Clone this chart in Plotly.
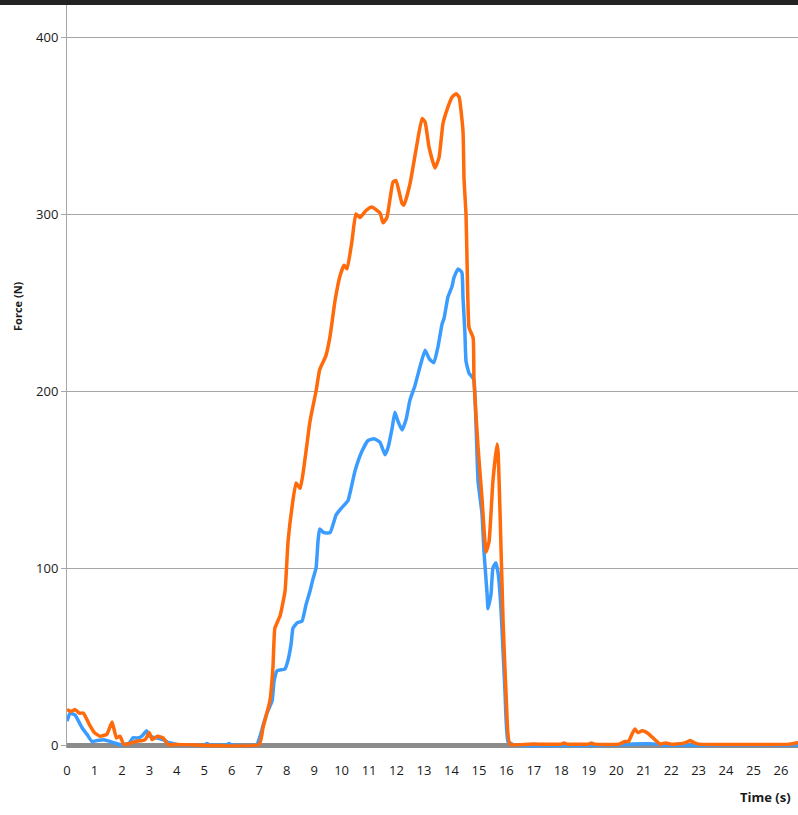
import plotly.graph_objects as go

# Force readings over time for the two channels
time_blue = [0.0, 0.11, 0.29, 0.47, 0.58, 0.73, 0.91, 1.09, 1.35, 1.56, 1.75, 2.0, 2.26, 2.4, 2.58, 2.73, 2.9, 3.0, 3.26, 3.5, 3.67, 3.82, 4.1,
             5.0, 5.1, 5.2, 5.8, 5.9, 6.0, 6.9, 7.14, 7.28, 7.47, 7.54, 7.65, 7.94, 8.05, 8.16, 8.23, 8.38, 8.56,
             8.70, 8.85, 8.96, 9.07, 9.14, 9.2, 9.35, 9.58, 9.8, 10.0, 10.23, 10.49, 10.74, 10.96, 11.18, 11.4,
             11.58, 11.69, 11.84, 11.94, 12.05, 12.2, 12.35, 12.49, 12.67, 12.86, 13.04, 13.2, 13.36, 13.51,
             13.66, 13.73, 13.87, 14.02, 14.09, 14.24, 14.38, 14.42, 14.49, 14.53, 14.64, 14.75, 14.82, 14.97,
             15.11, 15.19, 15.3, 15.33, 15.44, 15.51, 15.62, 15.70, 15.8, 15.95, 16.06, 16.3, 20.0, 20.4,
             20.6, 21.5, 21.7, 26.62]
force_blue = [13.5, 18, 17, 12, 9, 6, 2, 2.5, 3, 2, 1, 0, 1, 4, 4, 5, 8, 5, 4, 3, 1.5, 1, 0,
              0, 0.8, 0, 0, 0.8, 0, 0, 11, 18, 25, 36, 42, 43, 48, 57, 66, 69, 70,
              79, 87, 94, 100, 115, 122, 120, 120, 130, 134, 138, 155, 166, 172, 173, 171,
              164, 168, 179, 188, 183, 178, 184, 195, 203, 214, 223, 218, 216, 225,
              238, 241, 253, 259, 264, 269, 267, 253, 233, 217, 210, 208, 206, 149,
              131, 108, 85, 77, 85, 100, 103, 97, 78, 30, 2, 0, 0, 0.3,
              0.5, 0.5, 0, 0]

time_orange = [0.0, 0.15, 0.3, 0.45, 0.6, 0.8, 1.0, 1.2, 1.45, 1.64, 1.8, 1.93, 2.07, 2.3, 2.5, 2.84, 3.0, 3.1,
               3.3, 3.5, 3.68, 4.0, 7.0, 7.14, 7.39, 7.5, 7.57, 7.76, 7.94, 8.05, 8.2, 8.34, 8.49,
               8.85, 9.07, 9.2, 9.43, 9.58, 9.76, 9.94, 10.09, 10.2, 10.38, 10.52, 10.67, 10.89, 11.1,
               11.4, 11.51, 11.65, 11.87, 11.98, 12.2, 12.27, 12.49, 12.75, 12.93, 13.04, 13.18, 13.4,
               13.55, 13.69, 13.84, 14.02, 14.17, 14.28, 14.42, 14.46, 14.53, 14.57, 14.64, 14.79, 14.82,
               14.97, 15.11, 15.26, 15.37, 15.51, 15.66, 15.70, 15.77, 15.88, 16.0, 16.13, 17.0, 18.0,
               18.1, 18.2, 19.0, 19.1, 19.2, 20.1, 20.32, 20.45, 20.57, 20.68, 20.79, 20.94, 21.12,
               21.34, 21.6, 21.8, 22.0, 22.2, 22.5, 22.69, 22.85, 23.0, 26.3, 26.62]
force_orange = [20, 19, 20, 18, 18, 12, 7, 5, 6, 13, 4, 5, 0.3, 1, 2, 3, 7, 3,
                5, 4, 0.3, 0.3, 0.3, 10, 25, 44, 66, 73, 87, 115, 135, 148, 145,
                183, 200, 212, 220, 231, 251, 265, 271, 269, 285, 300, 298, 302, 304,
                300.5, 295, 298, 318, 319, 306, 305, 317, 340, 354, 352, 338, 326,
                332, 351, 359, 366, 368, 366, 347, 319, 300, 272, 236, 230, 206,
                168, 140, 109, 115, 149, 170, 165, 131, 70, 25, 0.5, 0.5, 0.5,
                1.2, 0.5, 0.5, 1.2, 0.5, 0.5, 2, 2, 6, 9, 7, 8, 7,
                4, 0.5, 1.2, 0.5, 0.5, 1.2, 2.5, 1.2, 0.5, 0.5, 1.5]

x_ticks = list(range(0, 27))
y_ticks = [0, 100, 200, 300, 400]

font_family = "Open Sans, Noto Sans, sans-serif"
grid_gray = "#a6a6a6"

fig = go.Figure()
fig.add_trace(go.Scatter(x=time_blue, y=force_blue, mode="lines",
                         line=dict(color="#3a9cff", width=3.5, shape="spline", smoothing=0.4),
                         showlegend=False))
fig.add_trace(go.Scatter(x=time_orange, y=force_orange, mode="lines",
                         line=dict(color="#ff6a0a", width=3.5, shape="spline", smoothing=0.4),
                         showlegend=False))

fig.update_layout(
    width=798, height=815,
    margin=dict(l=67, r=0, t=5, b=67),
    paper_bgcolor="white", plot_bgcolor="white",
    font=dict(family=font_family, color="#1a1a1a", size=13),
    xaxis=dict(
        range=[0, 26.62], tickvals=x_ticks, ticktext=[str(v) for v in x_ticks],
        showgrid=False, zeroline=False, showline=False, ticks="",
        ticklabelstandoff=13, tickfont=dict(size=13),
    ),
    yaxis=dict(
        range=[-1.69, 418.08], tickvals=y_ticks,
        showgrid=True, gridcolor=grid_gray, gridwidth=1,
        zeroline=True, zerolinecolor="#8c8c8c", zerolinewidth=5,
        showline=True, linecolor=grid_gray, linewidth=1,
        ticks="outside", ticklen=5, tickcolor=grid_gray,
        tickfont=dict(size=13),
    ),
    shapes=[dict(type="rect", xref="paper", yref="paper", x0=-0.1, x1=1.0,
                 y0=1.0, y1=1.02, fillcolor="#232323", line=dict(width=0), layer="above")],
    annotations=[
        dict(text="<b>Time (s)</b>", xref="paper", yref="paper", x=0.955, y=-0.066,
             xanchor="center", yanchor="middle", showarrow=False, font=dict(size=13)),
        dict(text="<b>Force (N)</b>", xref="paper", yref="paper", x=-0.067, y=0.595,
             xanchor="center", yanchor="middle", textangle=-90, showarrow=False,
             font=dict(size=11)),
    ],
)

fig.write_html("out.html")
